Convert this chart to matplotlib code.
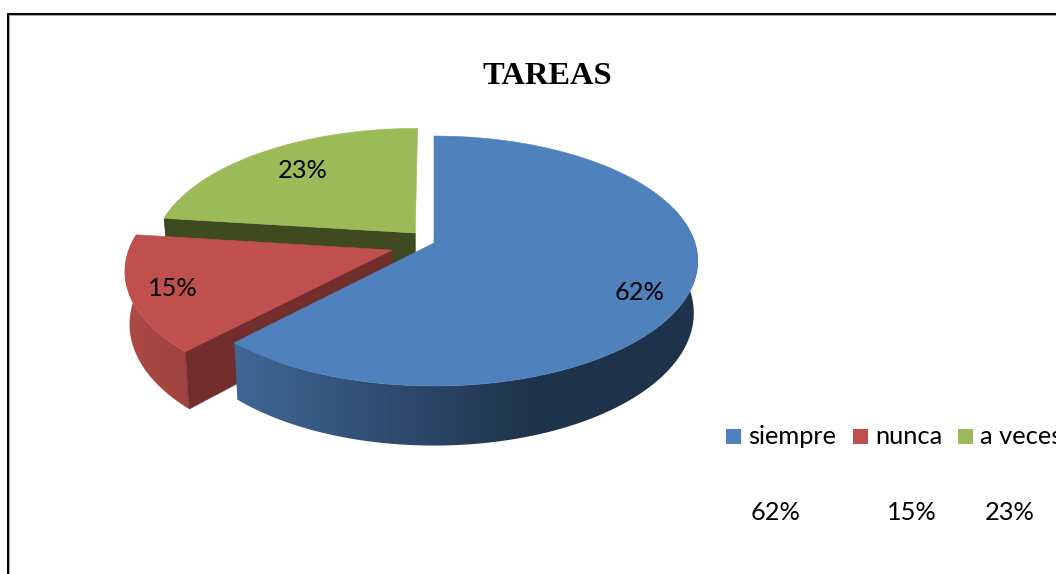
import numpy as np
import matplotlib
matplotlib.use("Agg")
import matplotlib.pyplot as plt
from matplotlib.colors import LinearSegmentedColormap
from matplotlib.patches import Polygon, Rectangle

# === data ===
categories = ["siempre", "nunca", "a veces"]
values = [62, 15, 23]
explode = [0.0, 0.17, 0.11]
colors = ["#4F81BD", "#C0504D", "#9BBB59"]
wall_colors = ["#1F3552", "#722E2D", "#3F4A20"]
title = "TAREAS"

# === pie geometry in pixels of the picture ===
CX, CY = 434, 243
RX, RY = 261, 122.4
K = 0.144          # perspective strength
DEPTH = 51
SHRINK = 0.985     # base of the pie is a bit narrower

W, H = 1056, 574
LABEL_FONT = ["Lato", "DejaVu Sans"]
LABEL_SIZE = 18.3

fig = plt.figure(figsize=(W / 100, H / 100), dpi=100)
ax = fig.add_axes([0, 0, 1, 1])


def project(theta, r, shift, bottom=False):
    """theta is clockwise from 12 o'clock, returns picture x, y."""
    x = r * np.sin(theta) + shift[0]
    y = -r * np.cos(theta) + shift[1]
    s = 1 / (1 - K * y)
    px = RX * x * s
    py = CY + RY * y * s
    if bottom:
        px = px * SHRINK
        py = py + DEPTH * s
    return CX + px, py


def draw_side(th, shift, cmap, z):
    # outer side: one horizontal gradient clipped to the band of the rim
    # the band starts behind the widest point, the top face covers that part
    th = th[np.cos(th) <= 0.3]
    if len(th) < 2:
        return  # rim of this slice faces away
    xt, yt = project(th, 1, shift)
    xb, yb = project(th, 1, shift, bottom=True)
    band = np.column_stack([np.r_[xt, xb[::-1]], np.r_[yt, yb[::-1]]])
    grad = np.linspace(0, 1, 256).reshape(1, -1)
    im = ax.imshow(grad, cmap=cmap, vmin=0, vmax=1, extent=(120, 540, H, 0), aspect="auto", zorder=z)
    # gradient stops at x=540, the rest of the rim stays at the darkest colour
    im2 = ax.imshow(np.ones((1, 1)), cmap=cmap, vmin=0, vmax=1, extent=(540, W, H, 0), aspect="auto", zorder=z)
    clip = Polygon(band, closed=True, transform=ax.transData, fc="none", ec="none")
    ax.add_patch(clip)
    im.set_clip_path(clip)
    im2.set_clip_path(clip)


def wall_quad(theta, shift, color, z):
    t = np.array([theta])
    a = project(np.array([0.0]), 0, shift)
    b = project(t, 1, shift)
    c = project(t, 1, shift, bottom=True)
    d = project(np.array([0.0]), 0, shift, bottom=True)
    pts = [(a[0][0], a[1][0]), (b[0][0], b[1][0]), (c[0][0], c[1][0]), (d[0][0], d[1][0])]
    ax.add_patch(Polygon(pts, closed=True, fc=color, ec=color, lw=0.4, zorder=z))


fractions = np.array(values) / sum(values)
edges = np.concatenate([[0], np.cumsum(fractions)]) * 2 * np.pi

side_maps = [
    LinearSegmentedColormap.from_list("b", [(0, "#4A77AE"), (0.3, "#3F6593"), (0.75, "#2A4465"), (1, "#1E3249")]),
    LinearSegmentedColormap.from_list("r", [(0, "#AD4A46"), (0.2, "#9C413E"), (1, "#722E2D")]),
    LinearSegmentedColormap.from_list("g", [(0, "#3F4A20"), (1, "#3F4A20")]),
]

# back to front: green, red, blue
for idx, z in [(2, 2), (1, 4), (0, 6)]:
    start, end = edges[idx], edges[idx + 1]
    mid = (start + end) / 2
    shift = (explode[idx] * np.sin(mid), -explode[idx] * np.cos(mid))
    th = np.linspace(start, end, 160)
    draw_side(th, shift, side_maps[idx], z)
    if idx in (1, 2):
        wall_quad(start, shift, wall_colors[idx], z)
    xt, yt = project(th, 1, shift)
    ax0, ay0 = project(np.array([0.0]), 0, shift)
    top = np.column_stack([np.r_[ax0, xt], np.r_[ay0, yt]])
    ax.add_patch(Polygon(top, closed=True, fc=colors[idx], ec=colors[idx], lw=0.4, zorder=z + 1))

# === labels on the pie ===
pie_label_xy = [(640, 293), (173, 289), (303, 171)]
for v, (x, y) in zip(values, pie_label_xy):
    ax.text(x, y, f"{v}%", fontsize=LABEL_SIZE, family=LABEL_FONT, ha="center", va="center", color="black", zorder=10)

ax.text(547, 76, title, fontsize=23.4, family=["Liberation Serif"], fontweight="bold", ha="center", va="center")

# === legend row and the percent row under it ===
legend_box_x = [726, 853, 958]
legend_value_x = [776, 912, 1010]
for name, v, c, bx, vx in zip(categories, values, colors, legend_box_x, legend_value_x):
    ax.add_patch(Rectangle((bx, 429), 15, 15, fc=c, ec="none"))
    ax.text(bx + 22, 444, name, fontsize=LABEL_SIZE, family=LABEL_FONT, ha="left", va="baseline", color="black")
    ax.text(vx, 512, f"{v}%", fontsize=LABEL_SIZE, family=LABEL_FONT, ha="center", va="center", color="black")

# === frame, cut by the picture on the right and at the bottom ===
ax.plot([9, 9], [H, 15], color="#9a9a9a", lw=1.2, solid_capstyle="butt", zorder=1)
ax.plot([9, W], [15, 15], color="#9a9a9a", lw=1.2, solid_capstyle="butt", zorder=1)
ax.plot([7.5, 7.5, W], [H, 13.5, 13.5], color="black", lw=1.4, solid_joinstyle="miter", zorder=1)

ax.set_xlim(0, W)
ax.set_ylim(H, 0)
ax.axis("off")

plt.savefig("out.png", dpi=100)
plt.close()
